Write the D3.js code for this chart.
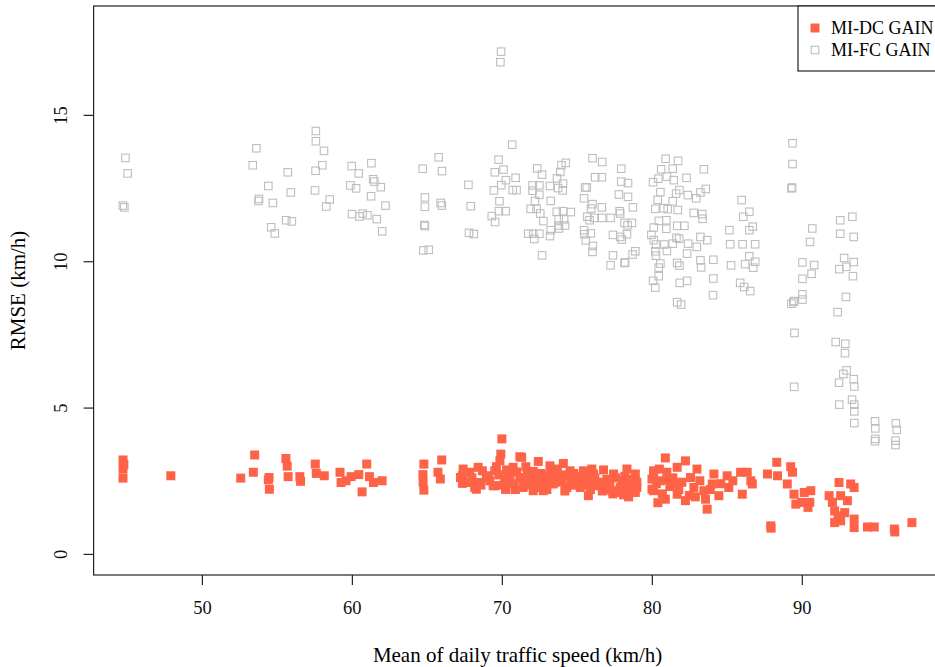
<!DOCTYPE html>
<html>
<head>
<meta charset="utf-8">
<script src="https://cdn.jsdelivr.net/npm/d3@7"></script>
<style>
  body { margin: 0; background: #fff; }
  svg text { font-family: "Liberation Serif", "DejaVu Serif", serif; }
</style>
</head>
<body>
<script>
// x = mean of daily traffic speed, y = RMSE.
const xTicks = [50, 60, 70, 80, 90];
const yTicks = [0, 5, 10, 15];
const legendLabels = ['MI-DC GAIN', 'MI-FC GAIN'];

const fcPoints = [
  [44.9,13.53],[45.05,13.0],[44.73,11.9],[44.83,11.84],
  [53.63,13.86],[53.39,13.28],[54.43,12.57],[53.81,12.13],[53.77,12.06],[54.73,11.99],[55.73,13.04],[55.93,12.35],[54.62,11.16],[54.86,10.95],[55.62,11.4],[56.0,11.36],
  [57.6,14.45],[57.6,14.1],[58.14,13.77],[58.03,13.28],[57.58,13.09],[57.54,12.42],[58.52,12.11],[58.29,11.87],
  [59.99,13.25],[60.46,13.0],[61.3,13.35],[61.42,12.8],[61.5,12.72],[61.93,12.53],[59.9,12.59],[60.28,12.49],[61.28,12.22],[62.24,11.9],[60.01,11.61],[60.5,11.53],[60.72,11.63],[61.04,11.57],[61.66,11.44],[62.02,11.02],
  [64.72,13.16],[65.79,13.55],[66.01,13.08],[64.87,12.18],[64.87,11.86],[65.92,11.99],[66.0,11.9],[64.83,11.24],[64.87,11.2],[64.76,10.37],[65.12,10.39],
  [67.77,12.61],[67.93,11.88],[67.81,10.97],[68.13,10.93],
  [69.95,17.16],[69.9,16.8],
  [70.69,13.98],[69.78,13.47],[69.53,13.04],[70.11,13.13],[70.27,12.77],[70.92,12.85],[69.96,12.6],[69.47,12.42],[70.72,12.43],[70.98,12.43],[69.84,12.05],[69.8,11.71],[70.25,11.71],[69.33,11.54],[69.55,11.34],
  [72.36,13.17],[72.68,12.96],[72.05,12.59],[72.5,12.59],[72.05,12.41],[72.5,12.27],[72.21,12.06],[71.92,11.79],[72.32,11.79],[72.56,11.63],[72.77,11.37],[71.76,10.94],[72.09,10.94],[72.5,10.94],[72.16,10.76],[72.68,10.2],
  [73.21,12.57],[73.26,12.06],[73.98,13.28],[74.26,13.36],[73.9,13.05],[73.68,12.83],[74.08,12.65],[73.75,12.5],[74.06,12.42],[73.66,11.69],[74.08,11.71],[74.6,11.68],[73.79,11.43],[74.15,11.43],[73.77,11.22],[74.21,11.22],[73.26,11.06],[73.21,10.86],[73.81,11.12],
  [76.04,13.52],[76.69,13.39],[77.96,13.16],[75.55,12.52],[75.66,12.52],[76.22,12.87],[76.67,12.87],[77.96,12.72],[78.41,12.67],[75.48,12.15],[77.8,12.28],[78.41,12.2],[76.04,11.95],[75.95,11.8],[76.67,11.84],[78.74,11.84],[77.85,11.71],[77.89,11.63],[75.7,11.52],[76.15,11.48],[76.69,11.48],[77.25,11.48],[75.85,11.4],[78.18,11.31],[78.38,11.23],[78.67,11.31],[75.48,11.06],[75.93,10.95],[75.5,10.92],[77.41,10.9],[77.89,10.83],[78.34,10.92],[78.0,10.74],[75.6,10.71],[76.07,10.52],[76.04,10.32],[78.9,10.34],[78.72,10.23],[77.41,10.2],[77.25,9.86],[78.18,9.94],[78.22,9.96],
  [80.92,13.5],[81.75,13.43],[83.47,13.14],[80.62,13.14],[81.39,13.16],[80.43,12.82],[81.0,12.89],[81.46,12.77],[80.08,12.7],[82.31,12.85],[80.57,12.36],[81.62,12.31],[81.84,12.43],[82.4,12.26],[82.96,12.15],[83.24,12.35],[83.6,12.47],[80.39,12.1],[81.39,12.05],[80.23,11.79],[80.79,11.81],[81.06,11.78],[81.73,11.75],[82.8,11.65],[83.36,11.61],[83.38,11.45],[80.46,11.38],[80.97,11.4],[81.69,11.21],[82.17,11.21],[80.13,11.15],[80.97,11.11],[79.97,10.9],[80.13,10.72],[81.64,10.8],[81.82,10.77],[83.24,10.83],[83.69,10.72],[80.28,10.57],[80.84,10.57],[81.39,10.6],[82.42,10.6],[83.0,10.49],[80.23,10.34],[81.0,10.35],[82.35,10.26],[80.28,10.19],[80.57,9.92],[81.69,9.94],[81.84,9.85],[83.24,10.03],[83.29,9.79],[84.1,10.05],[80.46,9.78],[80.46,9.49],[80.08,9.33],[80.23,9.1],[81.86,9.26],[82.35,9.33],[84.1,9.41],[84.08,8.84],[81.69,8.6],[81.95,8.52],
  [85.99,12.09],[86.5,11.69],[86.1,11.52],[85.17,11.06],[86.73,11.18],[86.5,11.06],[85.22,10.58],[86.05,10.58],[86.89,10.58],[86.5,10.17],[85.28,9.86],[86.22,9.9],[86.89,9.98],[86.76,9.78],[85.89,9.26],[86.16,9.12],[86.56,8.98],
  [89.38,14.03],[89.38,13.32],[89.31,12.49],[89.35,12.52],[90.04,9.96],[90.04,9.4],[90.04,8.87],[89.48,8.64],[89.31,8.55],
  [90.7,11.12],[90.55,10.66],[90.82,9.87],[90.65,9.57],[89.44,8.61],[90.04,8.69],[89.51,7.55],[89.49,5.71],
  [92.56,11.4],[93.37,11.52],[92.56,10.94],[93.46,10.83],[92.82,10.11],[93.46,9.97],[92.5,9.73],[92.97,9.81],[93.41,9.49],[92.94,8.78],[92.39,8.26],[92.26,7.24],[92.9,7.18],[92.88,6.86],[92.99,6.27],[92.77,6.15],[93.46,5.97],[92.48,5.85],[93.5,5.72],[93.35,5.27],[93.5,5.1],[92.5,5.1],[93.5,4.87],[93.5,4.47],
  [94.88,4.53],[94.9,4.29],[94.9,3.93],[94.88,3.85],[96.27,4.46],[96.33,4.24],[96.25,3.87],[96.25,3.72]
];

const dcPoints = [
  [44.74,3.21],[44.74,2.9],[44.74,2.59],[44.8,3.05],[47.93,2.67],[52.59,2.59],[53.52,3.38],[53.43,2.79],[54.48,2.61],[54.43,2.53],[54.5,2.21],
  [55.6,3.26],[55.69,3.0],[55.75,2.64],[56.53,2.64],[56.58,2.48],[57.56,3.07],[57.63,2.75],[58.16,2.67],[59.21,2.79],[59.28,2.44],[59.61,2.5],[59.95,2.64],
  [60.46,2.71],[60.99,3.07],[60.68,2.12],[61.17,2.64],[61.44,2.44],[62.02,2.5],[64.8,3.07],[64.74,2.71],[64.8,2.18],[64.75,2.45],[65.99,3.21],[65.9,2.56],[65.74,2.79],
  [67.37,2.67],[67.37,2.41],[67.86,2.79],[68.41,2.44],[68.3,2.21],[68.7,2.84],[68.97,2.61],[69.53,2.84],[69.53,2.33],[70.0,3.93],[69.93,3.41],[69.87,3.18],[70.2,2.56],[70.25,2.21],
  [71.2,3.32],[72.43,3.16],[74.1,3.09],[67.42,2.9],[68.42,2.96],[69.64,2.98],[70.31,2.87],[70.75,2.96],[71.6,2.98],[72.09,2.82],[73.21,3.01],[73.66,2.9],[74.55,2.84],[75.44,2.84],[76.11,2.73],[76.78,2.87],[77.45,2.73],[78.34,2.9],[78.9,2.73],[80.12,2.84],
  [67.24,2.61],[67.86,2.44],[68.19,2.27],[69.08,2.67],[69.42,2.33],[70.27,2.21],[70.54,2.5],[71.2,2.61],[71.42,2.27],[71.98,2.44],[72.43,2.27],[72.76,2.56],[73.43,2.39],[73.88,2.61],[74.33,2.27],[74.77,2.44],[75.22,2.27],[75.77,1.99],[75.89,2.5],[76.34,2.33],[76.89,2.39],[77.34,2.16],[77.89,2.27],[78.11,2.02],[78.56,2.39],[79.0,2.27],[80.01,2.56],[80.01,2.21],
  [71.32,3.3],[72.09,2.16],[72.76,2.16],[78.45,1.95],
  [70.5,2.7],[70.8,2.4],[71.0,2.8],[71.4,2.55],[71.7,2.7],[71.9,2.35],[72.2,2.6],[72.6,2.75],[72.9,2.4],[73.1,2.7],[73.5,2.55],[73.7,2.8],[74.0,2.45],[74.3,2.7],[74.6,2.55],[74.9,2.35],[75.1,2.65],[75.3,2.5],[75.6,2.75],[75.9,2.2],[76.2,2.6],[76.5,2.45],[76.7,2.15],[77.0,2.55],[77.2,2.4],[77.6,2.6],[77.8,2.1],[78.0,2.5],[78.3,2.3],[78.7,2.55],[78.9,2.1],[79.0,2.45],
  [68.0,2.6],[68.6,2.35],[69.2,2.5],[69.8,2.7],[70.1,2.35],[70.9,2.2],[71.6,2.45],[72.3,2.35],[73.0,2.2],[73.3,2.85],[74.2,2.15],[74.8,2.75],[75.5,2.35],[76.0,2.9],[76.9,2.2],[77.4,2.05],[78.2,2.65],[78.6,2.2],
  [80.9,3.28],[82.24,3.18],[80.12,2.73],[80.57,2.5],[81.0,2.79],[81.69,2.96],[81.46,2.39],[80.12,2.16],[80.9,1.87],[81.69,2.04],[82.24,1.82],[83.01,2.9],[82.58,2.61],[82.8,2.27],[83.47,2.16],[83.69,1.53],[83.58,1.87],[84.14,2.73],[84.03,2.39],[84.47,1.99],[85.02,2.67],[85.13,2.27],[85.92,2.79],[86.36,2.79],[86.03,2.04],[86.7,2.39],[86.6,2.5],
  [80.3,2.4],[80.5,2.9],[80.7,2.05],[81.2,2.3],[81.4,2.6],[81.8,2.2],[82.0,2.45],[82.5,2.0],[83.2,2.5],[83.9,2.2],[84.6,2.4],[85.4,2.5],[80.4,1.75],[81.1,2.55],[82.9,1.95],
  [87.93,0.96],[87.95,0.88],[88.33,3.13],[87.71,2.73],[88.38,2.67],[89.26,2.98],[89.38,2.79],[89.03,2.39],[89.48,2.04],[89.6,1.7],[90.16,2.1],[90.6,2.16],[90.53,1.76],[89.97,1.76],[90.41,1.59],
  [92.48,2.44],[93.26,2.39],[93.49,2.27],[91.82,1.99],[92.04,1.76],[92.59,1.99],[93.04,1.82],[92.19,1.47],[92.42,1.3],[92.86,1.41],[92.19,1.07],[92.59,1.13],[93.49,1.19],[93.49,0.9],
  [94.38,0.92],[94.83,0.92],[96.17,0.85],[96.2,0.75],[97.34,1.07]
];

const W = 935, H = 667;
const box = {left: 93.6, right: 941.6, top: 6, bottom: 575};

const svg = d3.select('body').append('svg')
  .attr('width', W)
  .attr('height', H);

// R-style 4% padding around the data range
const x = d3.scaleLinear().domain([42.78, 99.32]).range([box.left, box.right]);
const y = d3.scaleLinear().domain([-0.72, 18.72]).range([box.bottom, box.top]);

const sq = 7.5; // open square side
const fsq = 9; // filled square side

svg.append('g')
  .selectAll('rect')
  .data(fcPoints)
  .enter()
  .append('rect')
  .attr('x', d => x(d[0]) - sq / 2)
  .attr('y', d => y(d[1]) - sq / 2)
  .attr('width', sq)
  .attr('height', sq)
  .attr('fill', 'none')
  .attr('stroke', '#bebebe')
  .attr('stroke-width', 1.1);

svg.append('g')
  .selectAll('rect')
  .data(dcPoints)
  .enter()
  .append('rect')
  .attr('x', d => x(d[0]) - fsq / 2)
  .attr('y', d => y(d[1]) - fsq / 2)
  .attr('width', fsq)
  .attr('height', fsq)
  .attr('fill', 'tomato');

// box around plot
svg.append('rect')
  .attr('x', box.left)
  .attr('y', box.top)
  .attr('width', box.right - box.left)
  .attr('height', box.bottom - box.top)
  .attr('fill', 'none')
  .attr('stroke', '#222')
  .attr('stroke-width', 1.2);

const xAxis = svg.append('g')
  .attr('transform', `translate(0,${box.bottom})`)
  .call(d3.axisBottom(x).tickValues(xTicks).tickSize(10).tickPadding(16).tickFormat(d3.format('d')));
xAxis.select('.domain').remove();

const yAxis = svg.append('g')
  .attr('transform', `translate(${box.left},0)`)
  .call(d3.axisLeft(y).tickValues(yTicks).tickSize(10).tickPadding(0).tickFormat(d3.format('d')));
yAxis.select('.domain').remove();

// R draws y tick labels parallel to the axis
yAxis.selectAll('.tick text')
  .attr('x', null).attr('dy', null)
  .attr('transform', 'translate(-31,0) rotate(-90)')
  .attr('text-anchor', 'middle')
  .attr('dominant-baseline', 'middle');

svg.selectAll('.tick line').attr('stroke', '#222').attr('stroke-width', 1.2);
svg.selectAll('.tick text')
  .attr('fill', '#111')
  .style('font-size', '18.5px')
  .style('font-family', '"Liberation Serif", serif');

svg.append('text')
  .attr('x', (box.left + box.right) / 2)
  .attr('y', 662)
  .attr('text-anchor', 'middle')
  .style('font-size', '21px')
  .text('Mean of daily traffic speed (km/h)');

svg.append('text')
  .attr('transform', `translate(25,${(box.top + box.bottom) / 2}) rotate(-90)`)
  .attr('text-anchor', 'middle')
  .style('font-size', '21px')
  .text('RMSE (km/h)');

// legend, partly cut by the right edge like the original
const legend = svg.append('g');
legend.append('rect')
  .attr('x', 798).attr('y', box.top)
  .attr('width', 160).attr('height', 65)
  .attr('fill', '#fff')
  .attr('stroke', '#222')
  .attr('stroke-width', 1.2);

legendLabels.forEach((lab, i) => {
  const cy = 28 + i * 22;
  if (i === 0) {
    legend.append('rect')
      .attr('x', 815 - fsq / 2).attr('y', cy - fsq / 2)
      .attr('width', fsq).attr('height', fsq)
      .attr('fill', 'tomato');
  } else {
    legend.append('rect')
      .attr('x', 815 - sq / 2).attr('y', cy - sq / 2)
      .attr('width', sq).attr('height', sq)
      .attr('fill', 'none')
      .attr('stroke', '#bebebe')
      .attr('stroke-width', 1.1);
  }
  legend.append('text')
    .attr('x', 831)
    .attr('y', cy + 6)
    .style('font-size', '18px')
    .text(lab);
});
</script>
</body>
</html>
